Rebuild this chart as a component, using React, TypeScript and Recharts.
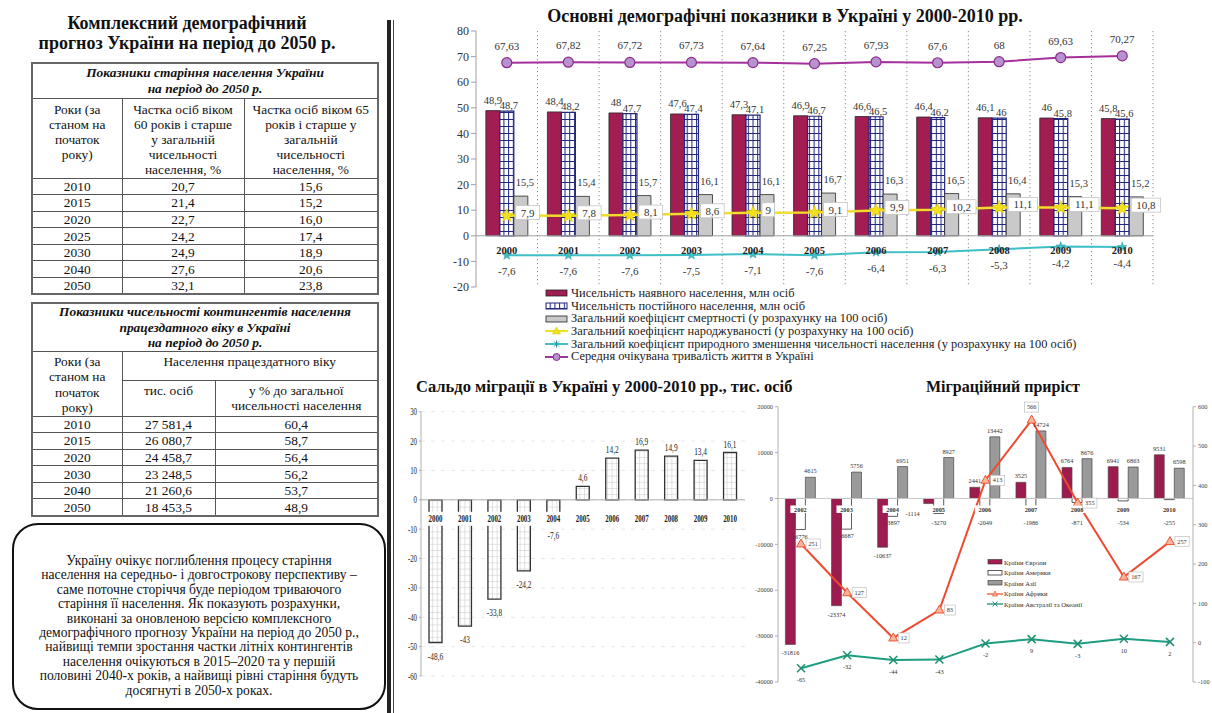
import React from "react";
import { ComposedChart, Bar, Line, XAxis, YAxis, CartesianGrid, ReferenceLine, LabelList } from "recharts";

const SERIF = '"Liberation Serif", "Times New Roman", serif';

// ---- main indicators 2000-2010
const years = ["2000", "2001", "2002", "2003", "2004", "2005", "2006", "2007", "2008", "2009", "2010"];
const presentPop = [48.9, 48.4, 48, 47.6, 47.3, 46.9, 46.6, 46.4, 46.1, 46, 45.8];
const permanentPop = [48.7, 48.2, 47.7, 47.4, 47.1, 46.7, 46.5, 46.2, 46, 45.8, 45.6];
const mortality = [15.5, 15.4, 15.7, 16.1, 16.1, 16.7, 16.3, 16.5, 16.4, 15.3, 15.2];
const birthRate = [7.9, 7.8, 8.1, 8.6, 9, 9.1, 9.9, 10.2, 11.1, 11.1, 10.8];
const naturalDecrease = [-7.6, -7.6, -7.6, -7.5, -7.1, -7.6, -6.4, -6.3, -5.3, -4.2, -4.4];
const lifeExpectancy = [67.63, 67.82, 67.72, 67.73, 67.64, 67.25, 67.93, 67.6, 68, 69.63, 70.27];
const topTicks = [-20, -10, 0, 10, 20, 30, 40, 50, 60, 70, 80];
const topLegend = [
  "Чисельність наявного населення, млн осіб",
  "Чисельність постійного населення, млн осіб",
  "Загальний коефіцієнт смертності (у розрахунку на 100 осіб)",
  "Загальний коефіцієнт народжуваності (у розрахунку на 100 осіб)",
  "Загальний коефіцієнт природного зменшення чисельності населення (у розрахунку на 100 осіб)",
  "Середня очікувана тривалість життя в Україні",
];

// ---- migration balance, thousands
const saldo = [-48.6, -43, -33.8, -24.2, -7.6, 4.6, 14.2, 16.9, 14.9, 13.4, 16.1];
const saldoTicks = [-60, -50, -40, -30, -20, -10, 0, 10, 20, 30];

// ---- migration growth by region
const migYears = ["2002", "2003", "2004", "2005", "2006", "2007", "2008", "2009", "2010"];
const europe = [-31816, -23374, -10637, -1114, 2441, 3525, 6764, 6941, 9531];
const america = [-6776, -6687, -3897, -3270, -2049, -1986, -871, -534, -255];
const asia = [4615, 5756, 6951, 8927, 13442, 14724, 8676, 6863, 6598];
const africa = [251, 127, 12, 83, 413, 566, 355, 167, 257];
const oceania = [-65, -32, -44, -43, -2, 9, -3, 10, 2];
const migLeftTicks = [-40000, -30000, -20000, -10000, 0, 10000, 20000];
const migRightTicks = [-100, 0, 100, 200, 300, 400, 500, 600];
const migLegend = ["Країни Європи", "Країни Америки", "Країни Азії", "Країни Африки", "Країни Австралії та Океанії"];

// ---- forecast tables
const agingYears = ["2010", "2015", "2020", "2025", "2030", "2040", "2050"];
const share60 = [20.7, 21.4, 22.7, 24.2, 24.9, 27.6, 32.1];
const share65 = [15.6, 15.2, 16.0, 17.4, 18.9, 20.6, 23.8];
const workYears = ["2010", "2015", "2020", "2030", "2040", "2050"];
const workThousands = [27581.4, 26080.7, 24458.7, 23248.5, 21260.6, 18453.5];
const workShare = [60.4, 58.7, 56.4, 56.2, 53.7, 48.9];

const noteLines = [
  "Україну очікує поглиблення процесу старіння",
  "населення на середньо- і довгострокову перспективу –",
  "саме поточне сторіччя буде періодом триваючого",
  "старіння її населення. Як показують розрахунки,",
  "виконані за оновленою версією комплексного",
  "демографічного прогнозу України на період до 2050 р.,",
  "найвищі темпи зростання частки літніх контингентів",
  "населення очікуються в 2015–2020 та у першій",
  "половині 2040-х років, а найвищі рівні старіння будуть",
  "досягнуті в 2050-х роках.",
];

const topData = years.map((year, i) => ({
  year,
  present: presentPop[i],
  permanent: permanentPop[i],
  mortality: mortality[i],
  birth: birthRate[i],
  decrease: naturalDecrease[i],
  life: lifeExpectancy[i],
}));
const saldoData = years.map((year, i) => ({ year, value: saldo[i] }));
const migData = migYears.map((year, i) => ({
  year,
  europe: europe[i],
  america: america[i],
  asia: asia[i],
  africa: africa[i],
  oceania: oceania[i],
}));

const CRIMSON = "#A11D52";
const comma = (v: number) => String(v).replace(".", ",");
const comma1 = (v: number) => v.toFixed(1).replace(".", ",");
const spaced = (v: number) => {
  const [i, d] = v.toFixed(1).split(".");
  return i.replace(/\B(?=(\d{3})+(?!\d))/g, " ") + "," + d;
};

// rect of a bar label, normalised so height is positive
function rectOf(p: any) {
  const vb = p.viewBox && typeof p.viewBox.x === "number" ? p.viewBox : p;
  const x = Number(vb.x) || 0;
  const y = Number(vb.y) || 0;
  const h = Number(vb.height) || 0;
  return { x, top: Math.min(y, y + h), bottom: Math.max(y, y + h), width: Number(vb.width) || 0 };
}
function pointOf(p: any) {
  const vb = p.viewBox && typeof p.viewBox.x === "number" ? p.viewBox : p;
  return { x: Number(vb.x) || 0, y: Number(vb.y) || 0 };
}

function starPath(cx: number, cy: number, R: number, r: number, n = 5) {
  let d = "";
  for (let i = 0; i < 2 * n; i++) {
    const rad = i % 2 ? r : R;
    const a = -Math.PI / 2 + (i * Math.PI) / n;
    d += (i ? "L" : "M") + (cx + rad * Math.cos(a)).toFixed(2) + "," + (cy + rad * Math.sin(a)).toFixed(2);
  }
  return d + "Z";
}

// squeezed text, for the narrow scanned fonts
function SqText({ x, y, sx = 0.68, size, bold, anchor = "middle", children }: any) {
  return (
    <text
      transform={`translate(${x},${y}) scale(${sx},1)`}
      textAnchor={anchor}
      fontSize={size}
      fontWeight={bold ? "bold" : "normal"}
      fontFamily={SERIF}
      fill="#222"
    >
      {children}
    </text>
  );
}

function Patterns() {
  return (
    <svg width={0} height={0} style={{ position: "absolute" }}>
      <defs>
        <pattern id="blueGrid" width={4.7} height={7} patternUnits="userSpaceOnUse">
          <rect width={4.7} height={7} fill="#fff" />
          <path d="M0.5 0 V7 M0 0.5 H4.7" stroke="#23287e" strokeWidth={1.1} />
        </pattern>
        <pattern id="saldoGrid" width={4.6} height={6.2} patternUnits="userSpaceOnUse">
          <rect width={4.6} height={6.2} fill="#fff" />
          <path d="M0.5 0 V6.2 M0 0.5 H4.6" stroke="#c4c4c4" strokeWidth={0.5} />
        </pattern>
      </defs>
    </svg>
  );
}

// ---------- top chart labels
const topValueLabel = (dx: number, lift: number) => (p: any) => {
  const r = rectOf(p);
  return (
    <text x={r.x + r.width / 2 + dx} y={r.top - lift} textAnchor="middle" fontSize={10.5} fill="#333" fontFamily={SERIF}>
      {comma(Number(p.value))}
    </text>
  );
};
const topYearLabel = (p: any) => {
  const r = rectOf(p);
  return (
    <text x={r.x + r.width / 2} y={r.bottom + 18} textAnchor="middle" fontSize={10.5} fontWeight="bold" fill="#222" fontFamily={SERIF}>
      {p.value}
    </text>
  );
};
const birthLabel = (p: any) => {
  const { x, y } = pointOf(p);
  const s = comma(Number(p.value));
  const w = s.length * 5.6 + 7;
  return (
    <g>
      <rect x={x + 9} y={y - 10} width={w} height={14} fill="#fff" stroke="#c4c4c4" strokeWidth={0.8} />
      <text x={x + 9 + w / 2} y={y + 1} textAnchor="middle" fontSize={11} fill="#333" fontFamily={SERIF}>
        {s}
      </text>
    </g>
  );
};
const pointLabel = (dy: number, size: number) => (p: any) => {
  const { x, y } = pointOf(p);
  return (
    <text x={x} y={y + dy} textAnchor="middle" fontSize={size} fill="#333" fontFamily={SERIF}>
      {comma(Number(p.value))}
    </text>
  );
};

const BirthDot = (p: any) =>
  p.cx == null ? null : <path key={`b${p.index}`} d={starPath(p.cx, p.cy, 7, 3)} fill="#F2E21C" stroke="#E3C400" strokeWidth={0.6} />;
const DecreaseDot = (p: any) =>
  p.cx == null ? null : <path key={`d${p.index}`} d={starPath(p.cx, p.cy, 5, 2)} fill="#3FBFC6" stroke="#2a9aa0" strokeWidth={0.5} />;
const LifeDot = (p: any) =>
  p.cx == null ? null : <circle key={`l${p.index}`} cx={p.cx} cy={p.cy} r={5} fill="#B891CF" stroke="#8E2A8E" strokeWidth={1.2} />;

function topLegendIcon(i: number) {
  if (i === 0) return <rect x={1} y={2} width={21} height={6} fill={CRIMSON} stroke="#222" strokeWidth={0.8} />;
  if (i === 1) return <rect x={1} y={2} width={21} height={6} fill="url(#blueGrid)" stroke="#23287e" strokeWidth={1} />;
  if (i === 2) return <rect x={1} y={2} width={21} height={6} fill="#c9c9c9" stroke="#222" strokeWidth={0.8} />;
  const color = i === 3 ? "#F2E21C" : i === 4 ? "#3FBFC6" : "#A4309C";
  return (
    <g>
      <line x1={0} y1={5} x2={23} y2={5} stroke={color} strokeWidth={2} />
      {i === 3 && <path d="M11.5 1 L15.5 8 L7.5 8 Z" fill="#F2E21C" stroke="#d8b800" strokeWidth={0.5} />}
      {i === 4 && <path d="M9 2.5 L14 7.5 M14 2.5 L9 7.5 M11.5 1.5 V8.5" stroke="#2a9aa0" strokeWidth={1} />}
      {i === 5 && <circle cx={11.5} cy={5} r={3.5} fill="#B891CF" stroke="#8E2A8E" />}
    </g>
  );
}

function TopChart() {
  return (
    <>
      <div
        style={{ position: "absolute", left: 395, width: 780, top: 6, textAlign: "center", fontFamily: SERIF, fontWeight: "bold", fontSize: 18, color: "#111" }}
      >
        Основні демографічні показники в Україні у 2000-2010 рр.
      </div>
      <div style={{ position: "absolute", left: 400, top: 0 }}>
        <ComposedChart
          width={780}
          height={300}
          data={topData}
          margin={{ top: 31, right: 27, bottom: 13, left: 46 }}
          barCategoryGap="16%"
          barGap={0}
        >
          <CartesianGrid
            horizontal={false}
            stroke="#8a8a8a"
            strokeDasharray="1.2 2.8"
            verticalCoordinatesGenerator={({ offset }: any) =>
              years.map((_, i) => offset.left + ((i + 1) * offset.width) / years.length)
            }
          />
          <XAxis dataKey="year" hide />
          <YAxis
            width={30}
            domain={[-20, 80]}
            ticks={topTicks}
            interval={0}
            tickSize={5}
            tick={{ fontSize: 12, fill: "#333", fontFamily: SERIF }}
            axisLine={{ stroke: "#a0a0a0" }}
            tickLine={{ stroke: "#a0a0a0" }}
          />
          <ReferenceLine y={0} stroke="#a0a0a0" />
          <Bar dataKey="present" fill={CRIMSON} stroke="#2a2a2a" strokeWidth={0.8} isAnimationActive={false}>
            <LabelList dataKey="present" content={topValueLabel(0, 7)} />
          </Bar>
          <Bar dataKey="permanent" fill="url(#blueGrid)" stroke="#23287e" strokeWidth={1.2} isAnimationActive={false}>
            <LabelList dataKey="permanent" content={topValueLabel(2, 2)} />
            <LabelList dataKey="year" content={topYearLabel} />
          </Bar>
          <Bar dataKey="mortality" fill="#c9c9c9" stroke="#2a2a2a" strokeWidth={0.8} isAnimationActive={false}>
            <LabelList dataKey="mortality" content={topValueLabel(4, 10)} />
          </Bar>
          <Line dataKey="birth" stroke="#F0DC2A" strokeWidth={2.5} dot={BirthDot} activeDot={false} isAnimationActive={false}>
            <LabelList dataKey="birth" content={birthLabel} />
          </Line>
          <Line dataKey="decrease" stroke="#3FBFC6" strokeWidth={2} dot={DecreaseDot} activeDot={false} isAnimationActive={false}>
            <LabelList dataKey="decrease" content={pointLabel(20, 11)} />
          </Line>
          <Line dataKey="life" stroke="#A4309C" strokeWidth={2} dot={LifeDot} activeDot={false} isAnimationActive={false}>
            <LabelList dataKey="life" content={pointLabel(-13, 11)} />
          </Line>
        </ComposedChart>
      </div>
      <div style={{ position: "absolute", left: 545, top: 287, fontFamily: SERIF, fontSize: 12.4, color: "#222" }}>
        {topLegend.map((name, i) => (
          <div key={name} style={{ display: "flex", alignItems: "center", height: 12.7, whiteSpace: "nowrap" }}>
            <svg width={24} height={10} style={{ marginRight: 2, flex: "none" }}>
              {topLegendIcon(i)}
            </svg>
            <span>{name}</span>
          </div>
        ))}
      </div>
    </>
  );
}

// ---------- saldo chart
const SaldoTick = (p: any) => (
  <SqText x={p.x} y={p.y + 3.5} sx={0.65} size={10.5} anchor="end">
    {p.payload.value}
  </SqText>
);
const saldoValueLabel = (p: any) => {
  const r = rectOf(p);
  const v = Number(p.value);
  const y = v >= 0 ? r.top - 5 : r.bottom + 17;
  return (
    <SqText x={r.x + r.width / 2} y={y} sx={0.7} size={10.5}>
      {comma(v)}
    </SqText>
  );
};
const saldoYearLabel = (p: any) => {
  const r = rectOf(p);
  const row = p.value || {};
  const base = row.value < 0 ? r.top : r.bottom;
  return (
    <g>
      <rect x={r.x - 2} y={base + 12} width={r.width + 4} height={14} fill="#fff" />
      <SqText x={r.x + r.width / 2} y={base + 22.5} sx={0.66} size={10.5} bold>
        {row.year}
      </SqText>
    </g>
  );
};

function SaldoChart() {
  return (
    <>
      <div style={{ position: "absolute", left: 416, top: 377, fontFamily: SERIF, fontWeight: "bold", fontSize: 16.5, color: "#111", whiteSpace: "nowrap" }}>
        Сальдо міграції в Україні у 2000-2010 рр., тис. осіб
      </div>
      <div style={{ position: "absolute", left: 400, top: 395 }}>
        <ComposedChart width={360} height={300} data={saldoData} margin={{ top: 16.7, right: 15, bottom: 19, left: 5 }}>
          <CartesianGrid vertical={false} stroke="#e8e8e8" strokeDasharray="4 6" />
          <XAxis dataKey="year" hide />
          <YAxis
            width={16}
            domain={[-60, 30]}
            ticks={saldoTicks}
            interval={0}
            tickSize={2}
            tick={SaldoTick}
            axisLine={{ stroke: "#b0b0b0" }}
            tickLine={{ stroke: "#b0b0b0" }}
          />
          <ReferenceLine y={0} stroke="#b0b0b0" />
          <Bar dataKey="value" barSize={13} fill="url(#saldoGrid)" stroke="#333" strokeWidth={1.3} isAnimationActive={false}>
            <LabelList dataKey="value" content={saldoValueLabel} />
            <LabelList dataKey={(d: any) => d} content={saldoYearLabel} />
          </Bar>
        </ComposedChart>
      </div>
    </>
  );
}

// ---------- migration growth chart
const migTick = (anchor: string) => (p: any) => (
  <text x={p.x} y={p.y + 2.2} textAnchor={anchor} fontSize={6.3} fill="#444" fontFamily={SERIF}>
    {p.payload.value}
  </text>
);
const smallText = (x: number, y: number, s: string, anchor = "middle", bold = false) => (
  <text x={x} y={y} textAnchor={anchor} fontSize={6.3} fontWeight={bold ? "bold" : "normal"} fill="#333" fontFamily={SERIF}>
    {s}
  </text>
);
const europeLabel = (p: any) => {
  const r = rectOf(p);
  const v = Number(p.value);
  const h = r.bottom - r.top;
  if (h < 10) return smallText(r.x - 4, r.bottom + 12, String(v), "end");
  return smallText(r.x + r.width / 2, v >= 0 ? r.top - 4 : r.bottom + 11, String(v));
};
const americaLabel = (p: any) => {
  const r = rectOf(p);
  return smallText(r.x + r.width / 2, Math.max(r.bottom + 9, r.top + 27), String(p.value));
};
const asiaLabel = (p: any) => {
  const r = rectOf(p);
  return smallText(r.x + r.width / 2, r.top - 4, String(p.value));
};
const migYearLabel = (p: any) => {
  const r = rectOf(p);
  const row = p.value || {};
  const base = row.america < 0 ? r.top : r.bottom;
  return (
    <g>
      <rect x={r.x - 5} y={base + 7} width={r.width + 10} height={7.5} fill="#fff" />
      {smallText(r.x + r.width / 2, base + 13.5, row.year, "middle", true)}
    </g>
  );
};
const africaPeak = Math.max(...africa);
const africaLabel = (p: any) => {
  const { x, y } = pointOf(p);
  const v = Number(p.value);
  const s = String(v);
  const w = s.length * 3.4 + 4;
  // the peak box sits above its point, the rest to the right
  const bx = v === africaPeak ? x - w / 2 : x + 5;
  const by = v === africaPeak ? y - 18 : y - 5;
  return (
    <g>
      <rect x={bx} y={by} width={w} height={10} fill="#fff" stroke="#b5b5b5" strokeWidth={0.6} />
      {smallText(bx + w / 2, by + 7, s)}
    </g>
  );
};
const oceaniaLabel = (p: any) => {
  const { x, y } = pointOf(p);
  return smallText(x, y + 14, String(p.value));
};
const TriDot = (p: any) =>
  p.cx == null ? null : (
    <path key={`t${p.index}`} d={`M${p.cx} ${p.cy - 5} L${p.cx + 4.5} ${p.cy + 3} L${p.cx - 4.5} ${p.cy + 3} Z`} fill="#F7B59A" stroke="#EE5533" strokeWidth={1} />
  );
const XDot = (p: any) =>
  p.cx == null ? null : (
    <path key={`x${p.index}`} d={`M${p.cx - 4} ${p.cy - 4} L${p.cx + 4} ${p.cy + 4} M${p.cx + 4} ${p.cy - 4} L${p.cx - 4} ${p.cy + 4}`} stroke="#1E8F72" strokeWidth={1.5} />
  );

function migLegendIcon(i: number) {
  if (i === 0) return <rect x={1} y={1.5} width={14} height={4.5} fill={CRIMSON} stroke="#333" strokeWidth={0.6} />;
  if (i === 1) return <rect x={1} y={1.5} width={14} height={4.5} fill="#fff" stroke="#333" strokeWidth={0.8} />;
  if (i === 2) return <rect x={1} y={1.5} width={14} height={4.5} fill="#9a9a9a" stroke="#333" strokeWidth={0.6} />;
  if (i === 3)
    return (
      <g>
        <line x1={0} y1={4} x2={16} y2={4} stroke="#EE5533" strokeWidth={1.3} />
        <path d="M8 1 L10.5 6 L5.5 6 Z" fill="#F7B59A" stroke="#EE5533" strokeWidth={0.7} />
      </g>
    );
  return (
    <g>
      <line x1={0} y1={4} x2={16} y2={4} stroke="#1E8F72" strokeWidth={1.3} />
      <path d="M5.5 1.5 L10.5 6.5 M10.5 1.5 L5.5 6.5" stroke="#1E8F72" strokeWidth={1} />
    </g>
  );
}

function MigrationChart() {
  return (
    <>
      <div style={{ position: "absolute", left: 926, top: 378, fontFamily: SERIF, fontWeight: "bold", fontSize: 16, color: "#111", whiteSpace: "nowrap" }}>
        Міграційний приріст
      </div>
      <div style={{ position: "absolute", left: 740, top: 395 }}>
        <ComposedChart
          width={472}
          height={300}
          data={migData}
          margin={{ top: 11.7, right: 2, bottom: 13, left: 5 }}
          barCategoryGap="16%"
          barGap={0}
        >
          <XAxis dataKey="year" hide />
          <YAxis
            yAxisId="left"
            width={33}
            domain={[-40000, 20000]}
            ticks={migLeftTicks}
            interval={0}
            tickSize={3}
            tick={migTick("end")}
            axisLine={{ stroke: "#b0b0b0" }}
            tickLine={{ stroke: "#b0b0b0" }}
          />
          <YAxis
            yAxisId="right"
            orientation="right"
            width={17}
            domain={[-100, 600]}
            ticks={migRightTicks}
            interval={0}
            tickSize={3}
            tick={migTick("start")}
            axisLine={{ stroke: "#b0b0b0" }}
            tickLine={{ stroke: "#b0b0b0" }}
          />
          <ReferenceLine yAxisId="left" y={0} stroke="#c8c8c8" />
          <Bar yAxisId="left" dataKey="europe" fill="#9C1C4F" stroke="#444" strokeWidth={0.6} isAnimationActive={false}>
            <LabelList dataKey="europe" content={europeLabel} />
          </Bar>
          <Bar yAxisId="left" dataKey="america" fill="#fff" stroke="#333" strokeWidth={0.8} isAnimationActive={false}>
            <LabelList dataKey="america" content={americaLabel} />
            <LabelList dataKey={(d: any) => d} content={migYearLabel} />
          </Bar>
          <Bar yAxisId="left" dataKey="asia" fill="#9a9a9a" stroke="#333" strokeWidth={0.6} isAnimationActive={false}>
            <LabelList dataKey="asia" content={asiaLabel} />
          </Bar>
          <Line yAxisId="right" dataKey="africa" stroke="#EE4A30" strokeWidth={2} dot={TriDot} activeDot={false} isAnimationActive={false}>
            <LabelList dataKey="africa" content={africaLabel} />
          </Line>
          <Line yAxisId="right" dataKey="oceania" stroke="#1E9E80" strokeWidth={2} dot={XDot} activeDot={false} isAnimationActive={false}>
            <LabelList dataKey="oceania" content={oceaniaLabel} />
          </Line>
        </ComposedChart>
      </div>
      <div style={{ position: "absolute", left: 987, top: 557, fontFamily: SERIF, fontSize: 6.6, color: "#333" }}>
        {migLegend.map((name, i) => (
          <div key={name} style={{ display: "flex", alignItems: "center", height: 10.5, whiteSpace: "nowrap" }}>
            <svg width={16} height={8} style={{ marginRight: 1, flex: "none" }}>
              {migLegendIcon(i)}
            </svg>
            <span>{name}</span>
          </div>
        ))}
      </div>
    </>
  );
}

// ---------- left panel
const cell: React.CSSProperties = { border: "1px solid #555", padding: 0, textAlign: "center", verticalAlign: "middle" };
const tableStyle: React.CSSProperties = {
  position: "absolute",
  left: 31,
  width: 346,
  borderCollapse: "collapse",
  border: "2px solid #666",
  fontFamily: SERIF,
  fontSize: 13.4,
  lineHeight: "15px",
  color: "#111",
  tableLayout: "fixed",
};

function LeftPanel() {
  return (
    <>
      <div style={{ position: "absolute", left: 0, width: 374, top: 13, textAlign: "center", fontFamily: SERIF, fontWeight: "bold", fontSize: 18, lineHeight: "20px", color: "#111" }}>
        Комплексний демографічний
        <br />
        прогноз України на період до 2050 р.
      </div>

      <table style={{ ...tableStyle, top: 62 }}>
        <colgroup>
          <col style={{ width: 90 }} />
          <col style={{ width: 122 }} />
          <col style={{ width: 134 }} />
        </colgroup>
        <tbody>
          <tr style={{ height: 35 }}>
            <td colSpan={3} style={{ ...cell, fontWeight: "bold", fontStyle: "italic", lineHeight: "16px" }}>
              Показники старіння населення України
              <br />
              на період до 2050 р.
            </td>
          </tr>
          <tr style={{ height: 80 }}>
            <td style={{ ...cell, verticalAlign: "top", paddingTop: 3 }}>
              Роки (за
              <br />
              станом на
              <br />
              початок
              <br />
              року)
            </td>
            <td style={{ ...cell, verticalAlign: "top", paddingTop: 3 }}>
              Частка осіб віком
              <br />
              60 років і старше
              <br />у загальній
              <br />
              чисельності
              <br />
              населення, %
            </td>
            <td style={{ ...cell, verticalAlign: "top", paddingTop: 3 }}>
              Частка осіб віком 65
              <br />
              років і старше у
              <br />
              загальній
              <br />
              чисельності
              <br />
              населення, %
            </td>
          </tr>
          {agingYears.map((y, i) => (
            <tr key={y} style={{ height: 16.6 }}>
              <td style={cell}>{y}</td>
              <td style={cell}>{comma1(share60[i])}</td>
              <td style={cell}>{comma1(share65[i])}</td>
            </tr>
          ))}
        </tbody>
      </table>

      <table style={{ ...tableStyle, top: 302 }}>
        <colgroup>
          <col style={{ width: 90 }} />
          <col style={{ width: 93 }} />
          <col style={{ width: 163 }} />
        </colgroup>
        <tbody>
          <tr style={{ height: 48 }}>
            <td colSpan={3} style={{ ...cell, fontWeight: "bold", fontStyle: "italic", lineHeight: "15.5px" }}>
              Показники чисельності контингентів населення
              <br />
              працездатного віку в Україні
              <br />
              на період до 2050 р.
            </td>
          </tr>
          <tr style={{ height: 29 }}>
            <td rowSpan={2} style={{ ...cell, verticalAlign: "top", paddingTop: 2, lineHeight: "15.5px" }}>
              Роки (за
              <br />
              станом на
              <br />
              початок
              <br />
              року)
            </td>
            <td colSpan={2} style={{ ...cell, verticalAlign: "top", paddingTop: 2 }}>
              Населення працездатного віку
            </td>
          </tr>
          <tr style={{ height: 34 }}>
            <td style={{ ...cell, verticalAlign: "top", paddingTop: 2 }}>тис. осіб</td>
            <td style={{ ...cell, verticalAlign: "top", paddingTop: 2 }}>
              у % до загальної
              <br />
              чисельності населення
            </td>
          </tr>
          {workYears.map((y, i) => (
            <tr key={y} style={{ height: 16.6 }}>
              <td style={cell}>{y}</td>
              <td style={cell}>{spaced(workThousands[i])}</td>
              <td style={cell}>{comma1(workShare[i])}</td>
            </tr>
          ))}
        </tbody>
      </table>

      <div
        style={{
          position: "absolute",
          left: 12,
          top: 523,
          width: 374,
          height: 187,
          boxSizing: "border-box",
          border: "2.5px solid #111",
          borderRadius: 26,
          paddingTop: 29,
          textAlign: "center",
          fontFamily: SERIF,
          fontSize: 13.6,
          lineHeight: "14.4px",
          color: "#111",
        }}
      >
        {noteLines.map((l) => (
          <div key={l} style={{ whiteSpace: "nowrap" }}>
            {l}
          </div>
        ))}
      </div>

      <div style={{ position: "absolute", left: 387, top: 20, width: 3.5, height: 693, background: "#222" }} />
      <div style={{ position: "absolute", left: 392.5, top: 20, width: 1.3, height: 693, background: "#444" }} />
    </>
  );
}

export default function App() {
  return (
    <div style={{ position: "absolute", left: 0, top: 0, width: 1212, height: 713, background: "#fff", overflow: "hidden" }}>
      <Patterns />
      <LeftPanel />
      <TopChart />
      <SaldoChart />
      <MigrationChart />
    </div>
  );
}
